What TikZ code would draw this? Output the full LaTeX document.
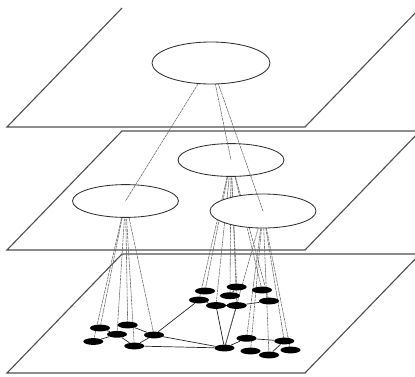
\documentclass[tikz,border=0pt]{standalone}
\usetikzlibrary{shapes.geometric}
\definecolor{Plane}{HTML}{505050}
\definecolor{Link}{HTML}{666666}
\definecolor{Outline}{HTML}{303030}
\pgfdeclarelayer{planes}
\pgfdeclarelayer{lowlinks}
\pgfdeclarelayer{midcells}
\pgfdeclarelayer{toplinks}
\pgfsetlayers{planes,lowlinks,midcells,toplinks,main}
\tikzset{
    plane/.style={draw=Plane, line width=0.8pt},
    topcell/.style={ellipse, draw=Outline, fill=white, line width=0.6pt, minimum width=2.95cm, minimum height=1.05cm, inner sep=0pt},
    midcell/.style={topcell, minimum width=2.65cm, minimum height=0.82cm},
    dotcell/.style={ellipse, fill=black, minimum width=0.5cm, minimum height=0.17cm, inner sep=0pt},
    hierlink/.style={draw=Link, line width=0.4pt, dash pattern=on 2pt off 0.5pt},
    graphlink/.style={draw=black!85, line width=0.5pt},
}
\begin{document}
\begin{tikzpicture}[x=0.025cm, y=-0.025cm]
\useasboundingbox (0,0) rectangle (415,376);

% three levels (top edge of the upper one is cut off)
\begin{pgfonlayer}{planes}
\draw[plane] (122,8) -- (7,127) -- (305,127) -- (420,8);
\foreach \y in {131,254}
    \draw[plane] (7,\y+119) -- (305,\y+119) -- (420,\y) -- (122,\y) -- cycle;
\end{pgfonlayer}

% bottom level: left group
\node[dotcell] (v1) at (100,328) {};
\node[dotcell] (v2) at (127.7,325) {};
\node[dotcell] (v3) at (117,334.3) {};
\node[dotcell] (v4) at (93.3,341.5) {};
\node[dotcell] (v5) at (134.3,346) {};
\node[dotcell] (v6) at (154,335) {};
% bottom level: upper right group
\node[dotcell] (w1) at (205,291) {};
\node[dotcell] (w2) at (236.7,287) {};
\node[dotcell] (w3) at (262,290) {};
\node[dotcell] (w4) at (199,300) {};
\node[dotcell] (w5) at (230,295.7) {};
\node[dotcell] (w6) at (216,305.5) {};
\node[dotcell] (w7) at (236.7,305.5) {};
\node[dotcell] (w8) at (269,301) {};
% bottom level: lower right group
\node[dotcell] (u1) at (224.5,348) {};
\node[dotcell] (u2) at (246.5,338.3) {};
\node[dotcell] (u3) at (250.5,351) {};
\node[dotcell] (u4) at (284.3,341) {};
\node[dotcell] (u5) at (269,355) {};
\node[dotcell] (u6) at (290.5,350) {};

% middle level
\begin{pgfonlayer}{midcells}
\node[midcell] (c1) at (125.5,201) {};
\node[midcell] (c2) at (231,160) {};
\node[midcell, minimum height=0.85cm] (c3) at (263,211) {};
\end{pgfonlayer}

% top level
\node[topcell] (root) at (211,63) {};

\begin{pgfonlayer}{lowlinks}
% graph on the bottom level
\foreach \a/\b in {v1/v3, v3/v4, v3/v5, v2/v6, v5/v6, v6/w4, v6/u1, v5/u1,
                   u1/w6, u1/w7, w6/w7, w7/w8, w2/w5, w4/w6, u1/u2, u2/u4, u4/u5}
    \draw[graphlink] (\a) -- (\b);
% middle to bottom
\foreach \i in {1,...,6}
    \draw[hierlink] (c1.center) -- (v\i.center);
\foreach \i in {1,...,8}
    \draw[hierlink] (c2.center) -- (w\i.center);
\foreach \i in {1,...,6}
    \draw[hierlink] (c3.center) -- (u\i.center);
\end{pgfonlayer}

% top to middle
\begin{pgfonlayer}{toplinks}
\foreach \i in {1,2,3}
    \draw[hierlink] (root.center) -- (c\i.center);
\end{pgfonlayer}
\end{tikzpicture}
\end{document}
